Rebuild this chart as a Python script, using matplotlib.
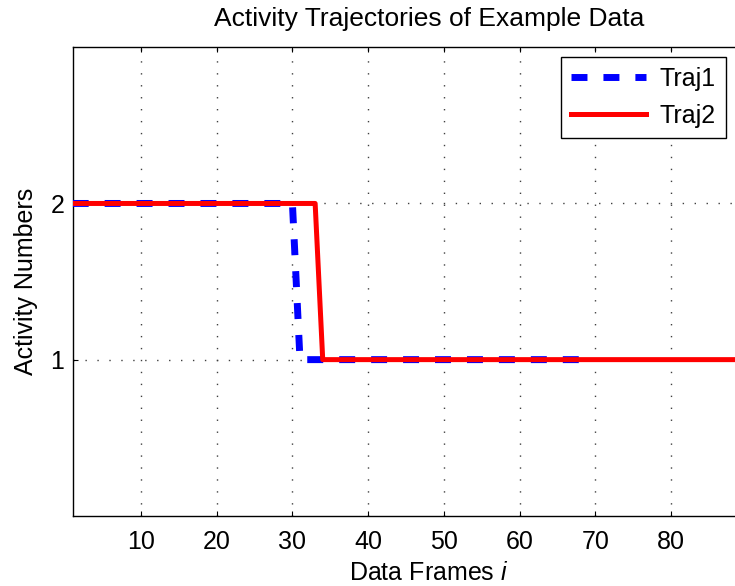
import matplotlib.pyplot as plt

plt.rcParams['font.family'] = ['Liberation Sans', 'DejaVu Sans']
plt.rcParams['mathtext.fontset'] = 'custom'
plt.rcParams['mathtext.rm'] = 'Liberation Sans'
plt.rcParams['mathtext.it'] = 'Liberation Sans:italic'

# step trajectories, stored as their corner points
traj1_frames = [1, 30, 31, 68]
traj1_values = [2, 2, 1, 1]
traj2_frames = [1, 33, 34, 95]
traj2_values = [2, 2, 1, 1]

x_ticks = [10, 20, 30, 40, 50, 60, 70, 80]
y_ticks = [1, 2]


def build_chart():
    fig = plt.figure(figsize=(7.35, 5.86), dpi=100)
    # axes runs past the right edge of the picture (cropped like the original)
    ax = fig.add_axes([0.0989, 0.1198, 0.969, 0.7995])

    ax.plot(traj1_frames, traj1_values, color="#0000ff", lw=5.0,
            linestyle="--", dashes=(2.3, 2.3), label="Traj1", zorder=3)
    ax.plot(traj2_frames, traj2_values, color="#ff0000", lw=3.6,
            label="Traj2", zorder=4)

    ax.set_xlim(1, 95)
    ax.set_ylim(0, 3)
    ax.set_xticks(x_ticks)
    ax.set_yticks(y_ticks)
    ax.tick_params(direction="in", length=3.6, width=0.8, labelsize=18,
                   top=True, right=True)
    ax.tick_params(axis="x", pad=10)
    ax.tick_params(axis="y", pad=6)
    ax.grid(True, color="0.25", linewidth=1.0, linestyle=(0, (1, 7.6)))
    for s in ax.spines.values():
        s.set_linewidth(1.0)

    ax.set_title("Activity Trajectories of Example Data", fontsize=19, pad=15)
    ax.set_xlabel("Data Frames $i$", fontsize=18, labelpad=5)
    ax.set_ylabel("Activity Numbers", fontsize=18, labelpad=9)

    leg = ax.legend(loc="upper right", fontsize=18, handlelength=3.0,
                    handletextpad=0.55, borderpad=0.4, labelspacing=0.5,
                    fancybox=False, edgecolor="black", framealpha=1,
                    borderaxespad=0, bbox_to_anchor=(726 / 735, 1 - 57 / 586),
                    bbox_transform=fig.transFigure)
    leg.get_frame().set_linewidth(1.0)

    fig.savefig("out.png", dpi=100)


if __name__ == "__main__":
    build_chart()
